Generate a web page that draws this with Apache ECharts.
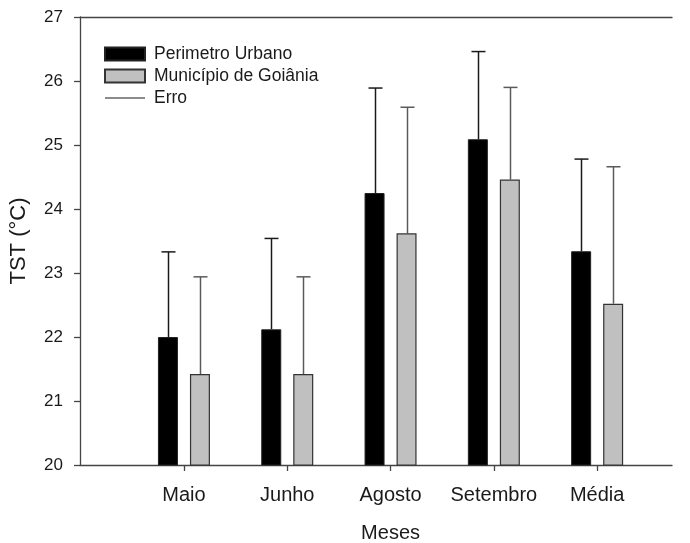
<!DOCTYPE html>
<html>
<head>
<meta charset="utf-8">
<script src="https://cdn.jsdelivr.net/npm/echarts@6/dist/echarts.min.js"></script>
<style>html,body{margin:0;padding:0;background:#fff;}#c{width:690px;height:543px;}</style>
</head>
<body>
<div id="c"></div>
<script>
const categories = ['Maio', 'Junho', 'Agosto', 'Setembro', 'Média'];
const perimetroUrbano = [22.00, 22.12, 24.25, 25.09, 23.34];
const perimetroErro = [1.33, 1.42, 1.64, 1.37, 1.44];
const municipioGoiania = [21.42, 21.42, 23.62, 24.46, 22.52];
const municipioErro = [1.52, 1.52, 1.97, 1.44, 2.14];
const yTicks = [20, 21, 22, 23, 24, 25, 26, 27];

const FONT = "'Liberation Sans', Arial, sans-serif";
const TXT = '#1a1a1a';
const AX = '#444';
const BAR_W = 20, BAR_GAP = 12;
const OFF = (BAR_W + BAR_GAP) / 2;

const errData = [];
categories.forEach((c, i) => {
  errData.push([i, perimetroUrbano[i], perimetroUrbano[i] + perimetroErro[i], -1]);
  errData.push([i, municipioGoiania[i], municipioGoiania[i] + municipioErro[i], 1]);
});

const chart = echarts.init(document.getElementById('c'), null, {renderer: 'canvas'});
const yMin = yTicks[0], yMax = yTicks[yTicks.length - 1];
chart.setOption({
  animation: false,
  backgroundColor: '#fff',
  textStyle: {fontFamily: FONT, color: TXT},
  legend: {
    orient: 'vertical', left: 104, top: 45, padding: 0,
    itemWidth: 40, itemHeight: 13, itemGap: 4,
    textStyle: {fontFamily: FONT, fontSize: 17.5, color: TXT, padding: [0, 0, 0, 4], lineHeight: 17},
    data: [
      {name: 'Perimetro Urbano', icon: 'rect'},
      {name: 'Município de Goiânia', icon: 'rect'},
      {name: 'Erro', icon: 'path://M0,0L40,0L40,1.4L0,1.4Z'}
    ]
  },
  grid: [
    {left: 80, right: 18, top: 17, bottom: 78, outerBoundsMode: 'none', containLabel: false},
    {left: 132.3, right: 41.2, top: 17, bottom: 78, outerBoundsMode: 'none', containLabel: false}
  ],
  xAxis: [
    {gridIndex: 0, type: 'value', min: 0, max: 1, position: 'bottom',
     axisLine: {show: true, lineStyle: {color: AX, width: 1.3}}, axisTick: {show: false},
     axisLabel: {show: false}, splitLine: {show: false}},
    {gridIndex: 0, type: 'value', min: 0, max: 1, position: 'top',
     axisLine: {show: true, lineStyle: {color: AX, width: 1.3}}, axisTick: {show: false},
     axisLabel: {show: false}, splitLine: {show: false}},
    {gridIndex: 1, type: 'category', data: categories, position: 'bottom',
     axisLine: {show: false},
     axisTick: {show: true, alignWithLabel: true, length: 6, lineStyle: {color: AX, width: 1.3}},
     axisLabel: {fontSize: 20, color: TXT, fontFamily: FONT, margin: 20, interval: 0, hideOverlap: false},
     name: 'Meses', nameLocation: 'middle', nameGap: 58,
     nameTextStyle: {fontSize: 20, color: TXT, fontFamily: FONT}}
  ],
  yAxis: [
    {gridIndex: 0, type: 'value', min: yMin, max: yMax, interval: 1,
     axisLine: {show: true, lineStyle: {color: AX, width: 1.3}},
     axisTick: {show: true, inside: false, length: 6, lineStyle: {color: AX, width: 1.3}},
     axisLabel: {fontSize: 17, color: TXT, fontFamily: FONT, margin: 17},
     splitLine: {show: false},
     name: 'TST (°C)', nameLocation: 'middle', nameGap: 50,
     nameTextStyle: {fontSize: 22, color: TXT, fontFamily: FONT}},
    {gridIndex: 1, type: 'value', min: yMin, max: yMax, interval: 1, show: false,
     splitLine: {show: false}}
  ],
  series: [
    {name: 'Perimetro Urbano', type: 'bar', xAxisIndex: 2, yAxisIndex: 1,
     data: perimetroUrbano, barWidth: BAR_W, barGap: (BAR_GAP / BAR_W * 100) + '%',
     itemStyle: {color: '#000', borderColor: '#222', borderWidth: 1}},
    {name: 'Município de Goiânia', type: 'bar', xAxisIndex: 2, yAxisIndex: 1,
     data: municipioGoiania, barWidth: BAR_W,
     itemStyle: {color: '#c0c0c0', borderColor: '#333', borderWidth: 1.2}},
    {name: 'Erro', type: 'custom', xAxisIndex: 2, yAxisIndex: 1, data: errData,
     itemStyle: {color: '#666'},
     renderItem: function (params, api) {
       const i = api.value(0), mean = api.value(1), top = api.value(2), side = api.value(3);
       const p0 = api.coord([i, mean]);
       const p1 = api.coord([i, top]);
       const x = Math.round(p0[0] + side * OFF) + 0.5;
       const col = side < 0 ? '#1a1a1a' : '#5a5a5a';
       const st = {stroke: col, lineWidth: 1.5};
       return {type: 'group', children: [
         {type: 'line', shape: {x1: x, y1: p0[1], x2: x, y2: p1[1]}, style: st},
         {type: 'line', shape: {x1: x - 7, y1: p1[1], x2: x + 7, y2: p1[1]}, style: st}
       ]};
     }}
  ]
});
</script>
</body>
</html>
